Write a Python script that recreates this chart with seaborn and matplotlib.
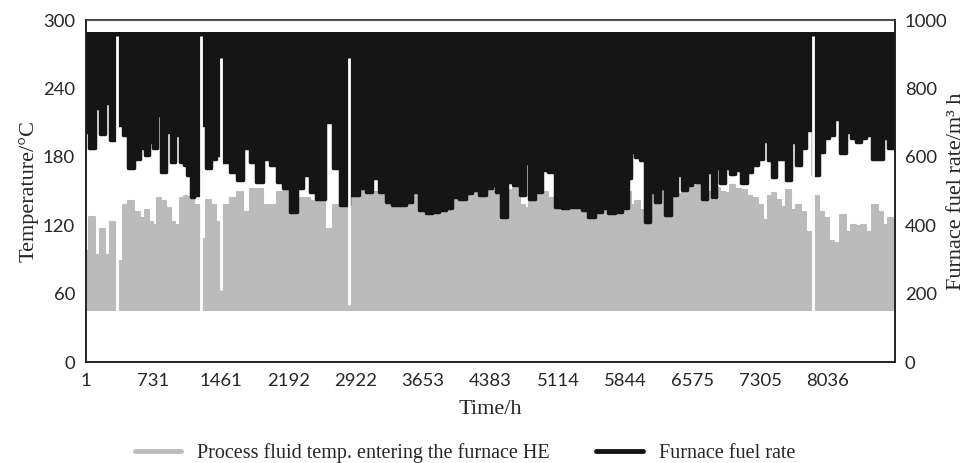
import numpy as np
import pandas as pd
import seaborn as sns
import matplotlib.pyplot as plt
from matplotlib.lines import Line2D

# hour of year (sampled), upper envelope of temperature, lower envelope of fuel rate
hours = [1, 69, 123, 177, 231, 285, 375, 430, 484, 556, 610, 664, 700, 755, 791,
         845, 899, 935, 989, 1043, 1080, 1115, 1151, 1188, 1278, 1332, 1386, 1440,
         1524, 1596, 1668, 1746, 1812, 1884, 1957, 2029, 2101, 2174, 2245, 2318,
         2390, 2462, 2534, 2642, 2715, 2787, 2913, 2996, 3068, 3141, 3213, 3285,
         3357, 3430, 3502, 3574, 3646, 3718, 3791, 3863, 3935, 4007, 4080, 4152,
         4224, 4296, 4368, 4422, 4469, 4523, 4595, 4668, 4740, 4776, 4830, 4903,
         4975, 5047, 5119, 5191, 5263, 5336, 5408, 5480, 5552, 5624, 5697, 5769,
         5841, 5895, 5924, 5978, 6032, 6079, 6141, 6195, 6249, 6303, 6375, 6430,
         6484, 6538, 6592, 6646, 6700, 6754, 6808, 6845, 6899, 6953, 7007, 7061,
         7133, 7188, 7242, 7314, 7365, 7415, 7451, 7505, 7559, 7613, 7668, 7722,
         7776, 7830, 7920, 7974, 8028, 8082, 8137, 8209, 8263, 8317, 8371, 8425,
         8479, 8552, 8606, 8660, 8715, 8766]
temp_peak = [97, 127, 94, 117, 94, 123, 89, 138, 141, 132, 126, 133, 123, 120, 144,
             141, 135, 123, 120, 144, 146, 145, 144, 138, 108, 142, 138, 123,
             138, 144, 149, 132, 152, 152, 138, 138, 149, 150, 132, 144,
             144, 141, 141, 117, 138, 136, 146, 152, 149, 149, 149, 141,
             138, 138, 141, 149, 133, 130, 132, 133, 135, 145, 143, 148,
             151, 146, 152, 155, 149, 128, 151, 153, 138, 135, 143, 149,
             149, 144, 136, 135, 136, 136, 133, 128, 132, 135, 130, 132,
             135, 149, 138, 141, 133, 123, 149, 141, 152, 129, 147, 147,
             151, 153, 154, 155, 143, 149, 141, 153, 149, 148, 155, 152,
             151, 146, 144, 138, 125, 146, 148, 142, 136, 151, 133, 138,
             132, 114, 146, 132, 126, 106, 104, 129, 114, 120, 119, 120,
             114, 138, 132, 120, 126, 120]
fuel_low = [673, 625, 742, 668, 756, 649, 693, 664, 566, 595, 625, 605, 644, 625, 722,
            556, 673, 586, 664, 586, 576, 547, 483, 488, 693, 566, 595, 605,
            586, 556, 532, 625, 586, 527, 595, 576, 527, 508, 439, 508,
            547, 498, 478, 702, 566, 459, 488, 508, 498, 537, 498, 469,
            459, 459, 469, 498, 444, 435, 439, 444, 449, 483, 478, 493,
            503, 488, 508, 517, 498, 425, 527, 517, 488, 581, 478, 498,
            561, 556, 454, 449, 454, 454, 444, 425, 439, 449, 435, 439,
            449, 537, 615, 600, 590, 410, 498, 469, 508, 430, 488, 547,
            503, 517, 527, 527, 478, 556, 483, 566, 522, 566, 551, 561,
            522, 556, 576, 595, 646, 590, 542, 595, 595, 532, 644, 576,
            625, 678, 547, 615, 654, 663, 712, 610, 673, 654, 644, 654,
            663, 595, 595, 654, 625, 660]
temp_base = 45   # lower envelope of temperature
fuel_top = 965   # upper envelope of fuel rate

# short outages (fuel-rate units)
gap_hours = [339, 1242, 1465, 2852, 7877]
gap_top = [953, 953, 890, 890, 953]
gap_bottom = [150, 150, 210, 167, 150]

xtick_labels = [1, 731, 1461, 2192, 2922, 3653, 4383, 5114, 5844, 6575, 7305, 8036]

GRAY = '#BBBBBB'
BLACK = '#151515'
SERIF = 'Liberation Serif'

sns.set_style('white')
plt.rcParams['font.family'] = ['Lato', 'DejaVu Sans']

df = pd.DataFrame({'hour': hours, 'temp': temp_peak, 'fuel': fuel_low})

fig, ax = plt.subplots(figsize=(9.71, 4.63), dpi=100)
fig.subplots_adjust(left=0.0886, right=0.9217, top=0.9568, bottom=0.2181)

ax.fill_between(df['hour'], temp_base, df['temp'], step='mid', color=GRAY, lw=0)
sns.lineplot(data=df, x='hour', y='temp', ax=ax, color=GRAY, drawstyle='steps-mid', lw=1.5)

ax2 = ax.twinx()
ax2.fill_between(df['hour'], df['fuel'], fuel_top, step='mid', color=BLACK, lw=0)
sns.lineplot(data=df, x='hour', y='fuel', ax=ax2, color=BLACK, drawstyle='steps-mid', lw=2.5)
ax2.vlines(gap_hours, gap_bottom, gap_top, color='white', lw=2)

ax.set_xlim(1, 8766)
ax.set_ylim(0, 300)
ax2.set_ylim(0, 1000)
ax.set_xticks(xtick_labels)
ax.set_yticks(range(0, 301, 60))
ax2.set_yticks(range(0, 1001, 200))
ax.tick_params(length=0, labelsize=13.3, pad=8)
ax2.tick_params(length=0, labelsize=13.3, pad=7)

ax.set_xlabel('Time/h', family=SERIF, fontsize=16, labelpad=8)
ax.set_ylabel('Temperature/°C', family=SERIF, fontsize=16, labelpad=3)
ax2.set_ylabel('Furnace fuel rate/m³ h', family=SERIF, fontsize=16, labelpad=0)

for a in (ax, ax2):
    for s in a.spines.values():
        s.set_color('#222222')
        s.set_linewidth(1.2)
ax2.spines['top'].set_color('#555555')
ax2.spines['top'].set_linewidth(0.8)

handles = [Line2D([], [], color=GRAY, lw=3.5), Line2D([], [], color=BLACK, lw=3.5)]
fig.legend(handles, ['Process fluid temp. entering the furnace HE', 'Furnace fuel rate'],
           loc='lower center', bbox_to_anchor=(0.479, -0.04), ncol=2, frameon=False,
           prop={'family': SERIF, 'size': 14.5}, handlelength=2.3, columnspacing=2.3)

fig.savefig('out.png', dpi=100)
